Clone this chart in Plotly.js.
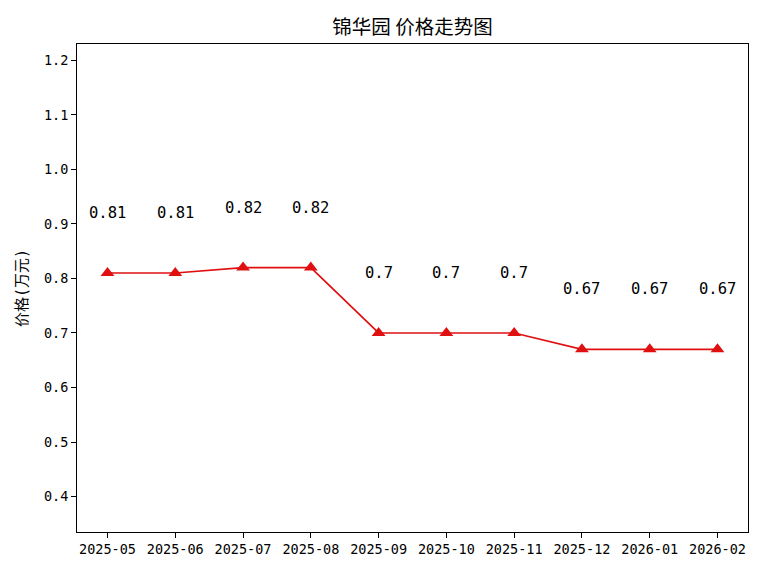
<!DOCTYPE html>
<html>
<head>
<meta charset="utf-8">
<script src="https://cdn.plot.ly/plotly-3.0.1.min.js"></script>
<style>html,body{margin:0;padding:0;background:#fff;}#chart{width:768px;height:576px;}</style>
</head>
<body>
<div id="chart"></div>
<script>
const months = ["2025-05","2025-06","2025-07","2025-08","2025-09","2025-10","2025-11","2025-12","2026-01","2026-02"];
const prices = [0.81,0.81,0.82,0.82,0.7,0.7,0.7,0.67,0.67,0.67];
const yTicks = [0.4,0.5,0.6,0.7,0.8,0.9,1.0,1.1,1.2];
const chartTitle = "锦华园 价格走势图";
const yLabel = "价格(万元)";

const FONT = "'DejaVu Sans Mono', 'Noto Sans CJK SC', sans-serif";
const idx = months.map((m,i)=>i);

const trace = {
  x: idx, y: prices, type: 'scatter', mode: 'lines+markers',
  line: {color: '#e01010', width: 1.7},
  marker: {symbol: 'triangle-up', size: 12, color: '#e01010'},
  hoverinfo: 'skip'
};

const annotations = prices.map((v,i)=>({
  x: i, y: v, xref: 'x', yref: 'y', text: String(v),
  showarrow: false, yshift: 60,
  font: {family: FONT, size: 15.5, color: '#000'}
}));

const yMin = Math.min(...prices)*0.5, yMax = Math.max(...prices)*1.5;

const layout = {
  width: 768, height: 576,
  margin: {l: 77, r: 20, t: 44, b: 44},
  paper_bgcolor: '#fff', plot_bgcolor: '#fff',
  showlegend: false,
  title: {text: chartTitle, x: 0.5, xanchor: 'center', y: 1 - 27/576, yanchor: 'middle',
          xref: 'paper', font: {family: "'Noto Sans CJK SC', sans-serif", size: 19.5, color: '#000'}},
  xaxis: {
    range: [-0.45, months.length - 1 + 0.45],
    tickmode: 'array', tickvals: idx, ticktext: months,
    showgrid: false, zeroline: false,
    showline: true, mirror: true, linecolor: '#000', linewidth: 1,
    ticks: 'outside', ticklen: 5, tickcolor: '#000', tickwidth: 1,
    tickfont: {family: FONT, size: 13.5, color: '#000'}
  },
  yaxis: {
    range: [yMin, yMax],
    tickmode: 'array', tickvals: yTicks, ticktext: yTicks.map(v=>v.toFixed(1)),
    showgrid: false, zeroline: false,
    showline: true, mirror: true, linecolor: '#000', linewidth: 1,
    ticks: 'outside', ticklen: 5, tickcolor: '#000', tickwidth: 1,
    tickfont: {family: FONT, size: 13.5, color: '#000'},
    title: {text: yLabel, font: {family: FONT, size: 15, color: '#000'}, standoff: 12}
  },
  annotations: annotations
};

Plotly.newPlot('chart', [trace], layout, {displayModeBar: false, staticPlot: true});
</script>
</body>
</html>
